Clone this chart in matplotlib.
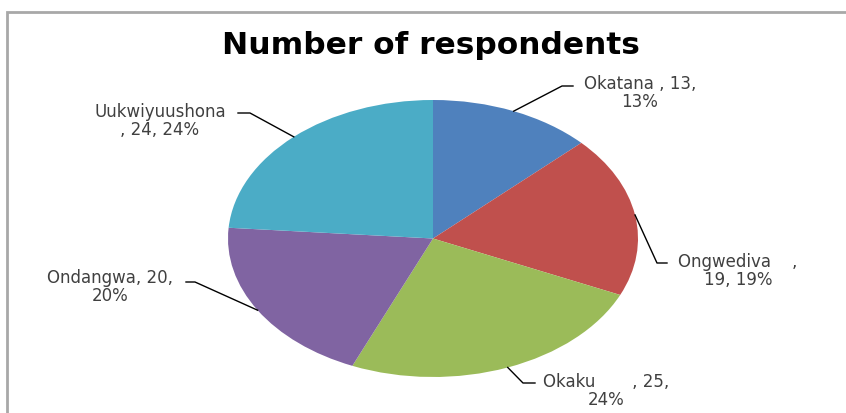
import matplotlib
matplotlib.use("Agg")
import matplotlib.pyplot as plt
import numpy as np
from matplotlib.patches import Rectangle

# ---- data ----
categories = ["Okatana ", "Ongwediva    ", "Okaku       ", "Ondangwa", "Uukwiyuushona"]
values = [13, 19, 25, 20, 24]
percents = [13, 19, 24, 20, 24]
colors = ["#4F81BD", "#C0504D", "#9BBB59", "#8064A2", "#4BACC6"]
title = "Number of respondents"

W, H = 846, 413
fig = plt.figure(figsize=(W / 100, H / 100), dpi=100)
plt.rcParams['font.family'] = ['DejaVu Sans']

def px(x, y):
    return (x / W, 1 - y / H)

# border frame
fig.patches.append(Rectangle(px(7, 430), (W + 20) / W, (430 - 12) / H,
                             transform=fig.transFigure, fill=False,
                             edgecolor="#a8a8a8", linewidth=2))

# pie axes: unit circle mapped to ellipse
cx, cy, rx, ry = 433, 238.5, 205, 138.5
ax = fig.add_axes([(cx - rx) / W, 1 - (cy + ry) / H, 2 * rx / W, 2 * ry / H])
wedges, _ = ax.pie(values, colors=colors, startangle=90, counterclock=False,
                   radius=1, wedgeprops=dict(linewidth=0))
ax.set_aspect('auto')
ax.set_xlim(-1, 1)
ax.set_ylim(-1, 1)
ax.axis('off')

fig.text(*px(431, 45), title, ha='center', va='center', fontsize=22.5,
         fontweight='bold', color='black')

# label layout (pixels): text block center, elbow point, line end near text
label_pos = [(640, 93), (738, 271), (606, 391), (110, 287), (160, 121)]
elbows = [((562, 86), (573, 86)), ((657, 263), (667, 263)), ((523, 383), (535, 383)),
          ((195, 282), (186, 282)), ((250, 113), (238, 113))]
break_after_name = [False, True, False, False, True]

total = sum(values)
ang = 90.0
for i, v in enumerate(values):
    span = v / total * 360
    mid = np.deg2rad(ang - span / 2)
    ang -= span
    sx, sy = cx + rx * np.cos(mid), cy - ry * np.sin(mid)
    (ex, ey), (tx, ty) = elbows[i]
    xs = [sx, ex, tx]
    ys = [sy, ey, ty]
    fig.add_artist(plt.Line2D([x / W for x in xs], [1 - y / H for y in ys],
                              transform=fig.transFigure, color='black', lw=1))
    if break_after_name[i]:
        txt = f"{categories[i]}\n, {v}, {percents[i]}%"
        if i == 1:
            txt = f"{categories[i]},\n{v}, {percents[i]}%"
    else:
        txt = f"{categories[i]}, {v},\n{percents[i]}%"
    fig.text(*px(*label_pos[i]), txt, ha='center', va='center', fontsize=12,
             color='#404040', linespacing=1.05, multialignment='center')

fig.savefig("out.png", dpi=100)
